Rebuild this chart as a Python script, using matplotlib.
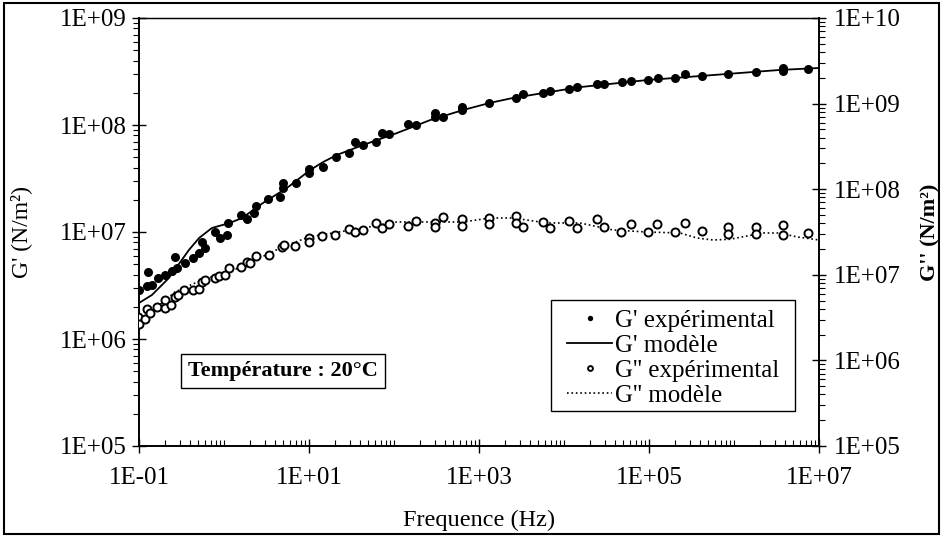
import matplotlib
matplotlib.use("Agg")
import matplotlib.pyplot as plt
from matplotlib.ticker import LogLocator, NullFormatter, FixedLocator, FixedFormatter
from matplotlib.patches import Rectangle

plt.rcParams['font.family'] = ['Liberation Serif', 'DejaVu Serif']

# ---- data ----
gp_freq = [0.1, 0.124, 0.128, 0.142, 0.168, 0.202, 0.245, 0.265, 0.28, 0.348, 0.43, 0.51, 0.55, 0.60,
           0.78, 0.90, 1.08, 1.11, 1.58, 1.87, 2.25, 2.38, 3.3, 4.56, 4.9, 4.9, 7.0, 10, 10, 14.6,
           20.8, 29.6, 34.8, 43, 61, 72, 87, 146, 182, 303, 303, 377, 631, 631, 1312,
           2723, 3296, 5667, 6845, 11450, 14230, 24450, 29580, 48100, 61400, 97300, 127600,
           202300, 265400, 420800, 849000, 1.815e6, 3.77e6, 3.77e6, 7.43e6]
gp_exp = [2.9e6, 3.1e6, 4.2e6, 3.2e6, 3.7e6, 4.0e6, 4.3e6, 5.8e6, 4.6e6, 5.1e6, 5.7e6, 6.4e6, 8.1e6, 7.1e6,
          1.0e7, 8.8e6, 9.4e6, 1.21e7, 1.44e7, 1.32e7, 1.51e7, 1.75e7, 2.03e7, 2.12e7, 2.87e7, 2.58e7, 2.87e7, 3.88e7, 3.56e7, 4.05e7,
          5.0e7, 5.5e7, 6.9e7, 6.5e7, 6.9e7, 8.4e7, 8.2e7, 1.02e8, 1.0e8, 1.29e8, 1.19e8, 1.19e8, 1.47e8, 1.38e8, 1.61e8,
          1.79e8, 1.95e8, 1.99e8, 2.08e8, 2.17e8, 2.26e8, 2.42e8, 2.42e8, 2.52e8, 2.58e8, 2.63e8, 2.75e8,
          2.75e8, 3.0e8, 2.87e8, 3.0e8, 3.13e8, 3.41e8, 3.2e8, 3.34e8]

gp_model_freq = [0.1, 0.142, 0.225, 0.387, 0.51, 0.72, 1.15, 1.63, 2.88, 5.5, 10.3, 14.6, 21.3, 43.2,
                 108, 265, 649, 1346, 2512, 15400, 94600, 566000, 3.47e6, 1.0e7]
gp_model = [2.17e6, 2.58e6, 3.72e6, 6.8e6, 8.8e6, 1.09e7, 1.21e7, 1.35e7, 1.87e7, 2.58e7, 3.79e7, 4.5e7, 5.25e7, 6.5e7,
            8.4e7, 1.11e8, 1.38e8, 1.61e8, 1.79e8, 2.26e8, 2.63e8, 2.93e8, 3.27e8, 3.41e8]

gpp_freq = [0.097, 0.1, 0.118, 0.124, 0.135, 0.163, 0.202, 0.202, 0.238, 0.265, 0.288, 0.338, 0.43, 0.51,
            0.55, 0.60, 0.78, 0.87, 1.03, 1.15, 1.58, 1.87, 2.02, 2.38, 3.38, 4.8, 5.1, 6.8, 10, 10,
            14.2, 20.2, 29.6, 34.8, 43.2, 61.4, 72.3, 87.3, 146, 182, 303, 303, 377, 631, 631, 1312, 1312,
            2723, 2723, 3296, 5667, 6845, 11450, 14230, 24450, 29580, 46900, 61400, 97300, 124200,
            202300, 265400, 420800, 849000, 849000, 1.815e6, 1.815e6, 3.77e6, 3.77e6, 7.43e6]
gpp_exp = [3.2e6, 2.66e6, 3.05e6, 3.98e6, 3.58e6, 4.2e6, 5.1e6, 4.1e6, 4.4e6, 5.5e6, 5.8e6, 6.6e6, 6.6e6, 6.8e6,
           8.2e6, 8.7e6, 9.2e6, 9.7e6, 1.0e7, 1.2e7, 1.23e7, 1.41e7, 1.38e7, 1.66e7, 1.7e7, 2.1e7, 2.23e7, 2.17e7, 2.69e7, 2.42e7,
           2.84e7, 2.92e7, 3.43e7, 3.16e7, 3.34e7, 4.03e7, 3.52e7, 3.92e7, 3.72e7, 4.25e7, 4.03e7, 3.61e7, 4.73e7, 4.49e7, 3.72e7, 4.61e7, 3.92e7,
           4.86e7, 4.03e7, 3.61e7, 4.14e7, 3.52e7, 4.25e7, 3.52e7, 4.49e7, 3.61e7, 3.16e7, 3.92e7, 3.16e7, 3.92e7,
           3.16e7, 4.03e7, 3.25e7, 3.61e7, 3.0e7, 3.61e7, 3.0e7, 3.82e7, 2.92e7, 3.08e7]

gpp_model_freq = [0.1, 0.135, 0.265, 0.55, 1.5, 4.8, 10, 43, 108, 649, 1346, 2512, 6300, 15400, 37700,
                  94600, 232000, 367000, 566000, 898000, 1.42e6, 2.19e6, 3.47e6, 5.5e6, 1.0e7]
gpp_model = [2.97e6, 3.58e6, 6.3e6, 8.7e6, 1.2e7, 2.1e7, 2.77e7, 3.52e7, 4.14e7, 4.14e7, 4.61e7, 4.61e7, 4.03e7, 4.03e7, 3.34e7,
             3.16e7, 3.08e7, 2.69e7, 2.55e7, 2.6e7, 2.84e7, 3.08e7, 3.08e7, 2.77e7, 2.55e7]

x_ticks = [1e-1, 1e1, 1e3, 1e5, 1e7]
x_ticklabels = ["1E-01", "1E+01", "1E+03", "1E+05", "1E+07"]
yl_ticks = [1e5, 1e6, 1e7, 1e8, 1e9]
yl_ticklabels = ["1E+05", "1E+06", "1E+07", "1E+08", "1E+09"]
yr_ticks = [1e5, 1e6, 1e7, 1e8, 1e9, 1e10]
yr_ticklabels = ["1E+05", "1E+06", "1E+07", "1E+08", "1E+09", "1E+10"]

# ---- figure ----
fig = plt.figure(figsize=(9.45, 5.37), dpi=100)
ax = fig.add_axes([139/945, 1-446/537, 680/945, 428/537])
ax2 = ax.twinx()

tick_fs = 18
ax.plot(gp_freq, gp_exp, 'o', color='black', ms=6.5, mew=0, label="G' expérimental", zorder=3)
ax.plot(gp_model_freq, gp_model, '-', color='black', lw=1.3, label="G' modèle", zorder=2)
ax2.plot(gpp_freq, gpp_exp, 'o', mfc='white', mec='black', ms=5.8, mew=1.4, label="G'' expérimental", zorder=3)
ax2.plot(gpp_model_freq, gpp_model, ':', color='black', lw=1.2, label="G'' modèle", zorder=2)

ax.set_xscale('log')
ax.set_yscale('log')
ax2.set_yscale('log')
ax.set_xlim(1e-1, 1e7)
ax.set_ylim(1e5, 1e9)
ax2.set_ylim(1e5, 1e10)

ax.xaxis.set_major_locator(FixedLocator(x_ticks))
ax.xaxis.set_major_formatter(FixedFormatter(x_ticklabels))
ax.xaxis.set_minor_locator(LogLocator(base=10, subs=[1, 2, 3, 4, 5, 6, 7, 8, 9], numticks=30))
ax.xaxis.set_minor_formatter(NullFormatter())
ax.yaxis.set_major_locator(FixedLocator(yl_ticks))
ax.yaxis.set_major_formatter(FixedFormatter(yl_ticklabels))
ax.yaxis.set_minor_locator(LogLocator(base=10, subs=[2, 3, 4, 5, 6, 7, 8, 9], numticks=30))
ax.yaxis.set_minor_formatter(NullFormatter())
ax2.yaxis.set_major_locator(FixedLocator(yr_ticks))
ax2.yaxis.set_major_formatter(FixedFormatter(yr_ticklabels))
ax2.yaxis.set_minor_locator(LogLocator(base=10, subs=[2, 3, 4, 5, 6, 7, 8, 9], numticks=30))
ax2.yaxis.set_minor_formatter(NullFormatter())

ax.tick_params(axis='x', which='major', direction='inout', length=10, width=1, labelsize=tick_fs, pad=10, top=False)
ax.tick_params(axis='x', which='minor', direction='in', length=4, width=0.8, top=False)
ax.tick_params(axis='y', which='major', direction='inout', length=10, width=1, labelsize=tick_fs, pad=4)
ax.tick_params(axis='y', which='minor', direction='out', length=4, width=0.8)
ax2.tick_params(axis='y', which='major', direction='inout', length=10, width=1, labelsize=tick_fs, pad=6)
ax2.tick_params(axis='y', which='minor', direction='out', length=4, width=0.8)

for a in (ax, ax2):
    for s in a.spines.values():
        s.set_linewidth(1.2)
    a.spines['top'].set_linewidth(0.9)

ax.set_xlabel("Frequence (Hz)", fontsize=17.5, labelpad=15)
ax.set_ylabel("G' (N/m²)", fontsize=17, labelpad=20)
ax2.set_ylabel("G'' (N/m²)", fontsize=16, fontweight='bold', labelpad=14)

# legend (frame drawn separately to match the wide side margins)
h1, l1 = ax.get_legend_handles_labels()
h2, l2 = ax2.get_legend_handles_labels()
leg = ax2.legend(h1 + h2, l1 + l2, loc='lower right', bbox_to_anchor=(0.945, 0.086),
                 fontsize=18, frameon=False,
                 handlelength=1.8, handletextpad=0.1, borderpad=0.1, labelspacing=0.1,
                 markerscale=0.6, borderaxespad=0)
ax2.add_patch(Rectangle((0.606, 0.082), 0.359, 0.259, transform=ax2.transAxes,
                        facecolor='white', edgecolor='black', linewidth=1.0, zorder=4))
leg.set_zorder(5)

ax.text(0.072, 0.175, "Température : 20°C", transform=ax.transAxes, fontsize=16, fontweight='bold',
        ha='left', va='center',
        bbox=dict(boxstyle='square,pad=0.3', facecolor='white', edgecolor='black', linewidth=1.0))

fig.patches.append(Rectangle((0.004, 0.006), 0.99, 0.988, transform=fig.transFigure,
                             fill=False, edgecolor='black', linewidth=1.5))

fig.savefig("out.png", dpi=100)
